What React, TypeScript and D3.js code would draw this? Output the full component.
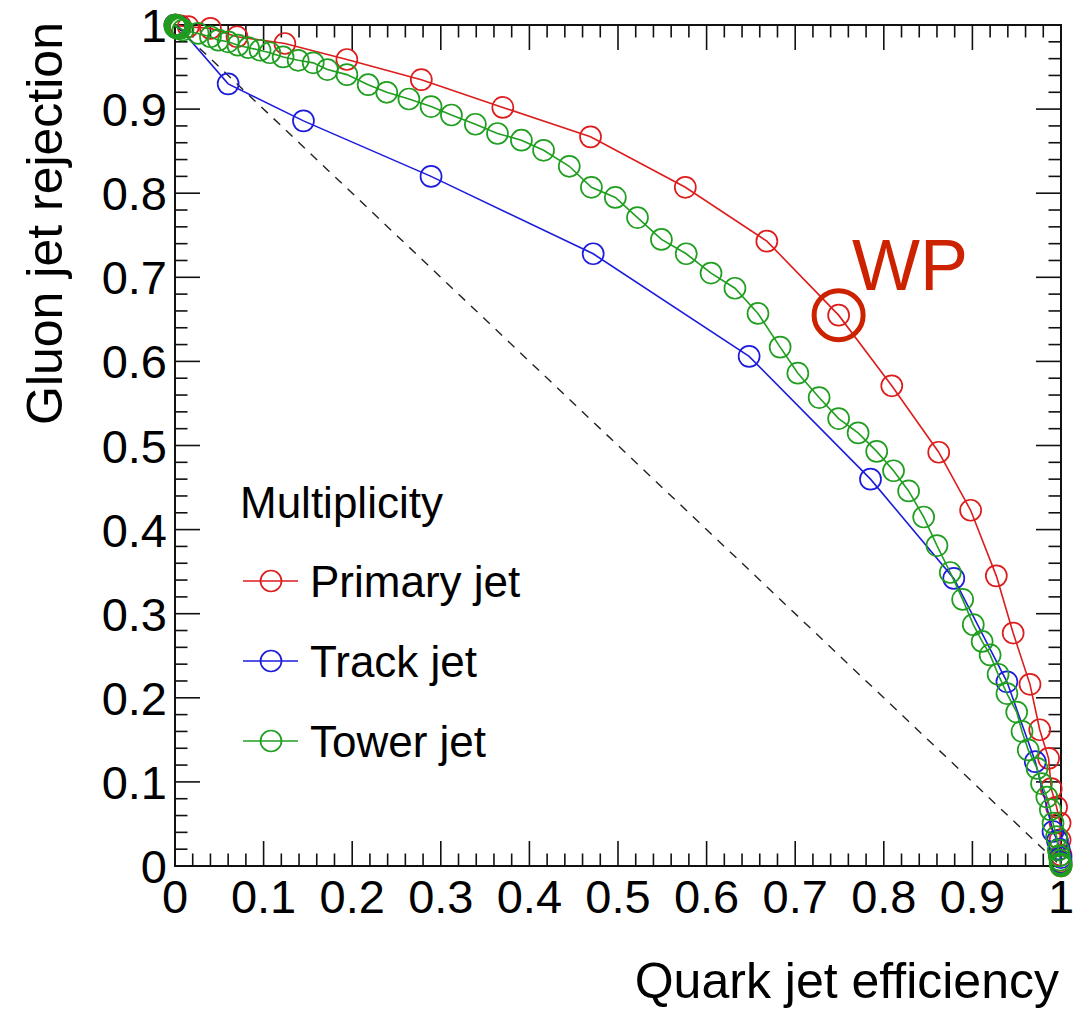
import React from "react";
import * as d3 from "d3";

// ---- Data ----
const primaryX = [0, 0.001, 0.003, 0.006, 0.015, 0.040, 0.070, 0.124, 0.194, 0.278, 0.370, 0.469, 0.576, 0.668, 0.749, 0.809, 0.862, 0.898, 0.927, 0.946, 0.965, 0.976, 0.986, 0.989, 0.995, 0.999, 0.999, 1.0, 1.0, 1.0];
const primaryY = [1, 1.0, 0.999, 0.999, 0.998, 0.996, 0.986, 0.978, 0.959, 0.935, 0.902, 0.867, 0.807, 0.743, 0.655, 0.571, 0.492, 0.423, 0.345, 0.277, 0.216, 0.162, 0.128, 0.092, 0.070, 0.051, 0.031, 0.013, 0.005, 0.0];

const trackX = [0, 0.001, 0.004, 0.060, 0.145, 0.289, 0.472, 0.648, 0.785, 0.879, 0.939, 0.971, 0.991, 0.996, 0.998, 1.0, 1.0];
const trackY = [1, 0.999, 0.998, 0.930, 0.886, 0.820, 0.728, 0.606, 0.460, 0.342, 0.219, 0.124, 0.041, 0.030, 0.020, 0.010, 0.004];

const towerX = [0, 0.0, 0.001, 0.001, 0.002, 0.003, 0.004, 0.006, 0.009, 0.026, 0.040, 0.049, 0.060, 0.071, 0.083, 0.096, 0.107, 0.122, 0.139, 0.156, 0.172, 0.194, 0.218, 0.239, 0.264, 0.289, 0.312, 0.339, 0.364, 0.391, 0.416, 0.445, 0.470, 0.497, 0.522, 0.549, 0.577, 0.605, 0.632, 0.658, 0.683, 0.703, 0.727, 0.749, 0.771, 0.792, 0.811, 0.828, 0.845, 0.860, 0.875, 0.889, 0.901, 0.911, 0.920, 0.929, 0.939, 0.950, 0.956, 0.963, 0.973, 0.978, 0.984, 0.988, 0.991, 0.995, 0.997, 0.998, 0.999, 0.999, 1.0, 1.0, 1.0];
const towerY = [1, 0.998, 1.0, 0.997, 0.999, 0.996, 0.997, 0.996, 0.994, 0.990, 0.986, 0.982, 0.980, 0.976, 0.973, 0.970, 0.967, 0.962, 0.958, 0.955, 0.947, 0.941, 0.929, 0.920, 0.912, 0.903, 0.893, 0.882, 0.871, 0.863, 0.851, 0.832, 0.807, 0.795, 0.771, 0.745, 0.728, 0.705, 0.687, 0.657, 0.617, 0.586, 0.557, 0.532, 0.515, 0.493, 0.470, 0.446, 0.415, 0.381, 0.349, 0.317, 0.287, 0.267, 0.251, 0.228, 0.205, 0.183, 0.160, 0.138, 0.116, 0.098, 0.082, 0.067, 0.051, 0.035, 0.019, 0.012, 0.007, 0.003, 0.002, 0.001, 0.0];

const seriesNames = ["Primary jet", "Track jet", "Tower jet"];
const seriesColors = ["#dd1c1c", "#1c1cdc", "#1f9e1f"];
const wpPoint = [0.749, 0.655];
const legendTitle = "Multiplicity";
const xTitle = "Quark jet efficiency";
const yTitle = "Gluon jet rejection";
const majorTicks = [0, 0.1, 0.2, 0.3, 0.4, 0.5, 0.6, 0.7, 0.8, 0.9, 1];

const FONT = "'Liberation Sans', Arial, Helvetica, sans-serif";

export default function App() {
  const W = 1080, H = 1010;
  const x = d3.scaleLinear().domain([0, 1]).range([175, 1061]);
  const y = d3.scaleLinear().domain([0, 1]).range([866, 25]);
  const minor = d3.range(0, 51).map((i) => i / 50);
  const isMajor = (v: number) => Math.abs(v * 10 - Math.round(v * 10)) < 1e-6;
  const fmt = (v: number) => (v === 0 ? "0" : v === 1 ? "1" : d3.format(".1f")(v));

  const series = [
    { xs: primaryX, ys: primaryY },
    { xs: trackX, ys: trackY },
    { xs: towerX, ys: towerY },
  ].map((s, i) => ({
    pts: s.xs.map((v, j) => [v, s.ys[j]] as [number, number]),
    color: seriesColors[i],
    name: seriesNames[i],
  }));

  const line = d3.line<[number, number]>().x((d) => x(d[0])).y((d) => y(d[1]));

  const [x0, x1] = x.range();
  const [y0, y1] = y.range();
  const R = 10.5;

  return (
    <svg width={W} height={H} style={{ position: "absolute", left: 0, top: 0, background: "#fff" }} fontFamily={FONT}>
      <rect x={0} y={0} width={W} height={H} fill="#fff" />
      {/* diagonal */}
      <line x1={x(0)} y1={y(1)} x2={x(1)} y2={y(0)} stroke="#222" strokeWidth={1.4} strokeDasharray="9,8" />

      {/* frame and ticks */}
      <g stroke="#111" strokeWidth={1.6}>
        {minor.map((v) => {
          const L = isMajor(v) ? 25 : 12.5;
          const px = x(v), py = y(v);
          return (
            <g key={"t" + v}>
              <line x1={px} y1={y0} x2={px} y2={y0 - L} />
              <line x1={px} y1={y1} x2={px} y2={y1 + L} />
              <line x1={x0} y1={py} x2={x0 + L} y2={py} />
              <line x1={x1} y1={py} x2={x1 - L} y2={py} />
            </g>
          );
        })}
      </g>
      <rect x={x0} y={y1} width={x1 - x0} height={y0 - y1} fill="none" stroke="#111" strokeWidth={2} />

      {/* tick labels */}
      <g fontSize={47} fill="#000">
        {majorTicks.map((v) => (
          <text key={"xl" + v} x={x(v)} y={913} textAnchor="middle">{fmt(v)}</text>
        ))}
        {majorTicks.map((v) => (
          <text key={"yl" + v} x={167} y={y(v) + 17} textAnchor="end">{fmt(v)}</text>
        ))}
      </g>

      {/* axis titles */}
      <text x={1059} y={998} fontSize={50} textAnchor="end" fill="#000">{xTitle}</text>
      <text transform="translate(62,22) rotate(-90)" fontSize={50} textAnchor="end" fill="#000">{yTitle}</text>

      {/* series */}
      {series.map((s, i) => (
        <g key={"s" + i}>
          <path d={line(s.pts) || ""} fill="none" stroke={s.color} strokeWidth={1.6} />
          {s.pts.map((p, j) => (
            <circle key={j} cx={x(p[0])} cy={y(p[1])} r={R} fill="none" stroke={s.color} strokeWidth={1.7} />
          ))}
          {i === 0 && (
            <circle cx={x(wpPoint[0])} cy={y(wpPoint[1])} r={24.5} fill="none" stroke="#cc2200" strokeWidth={5} />
          )}
        </g>
      ))}

      {/* WP label */}
      <text x={852} y={290} fontSize={72} fill="#cc2200">WP</text>

      {/* legend */}
      <text x={240} y={518} fontSize={44} fill="#000">{legendTitle}</text>
      {series.map((s, i) => {
        const ly = 581 + i * 80;
        return (
          <g key={"lg" + i}>
            <line x1={243} y1={ly} x2={298} y2={ly} stroke={s.color} strokeWidth={1.6} />
            <circle cx={271} cy={ly} r={R} fill="none" stroke={s.color} strokeWidth={1.7} />
            <text x={310} y={ly + 16} fontSize={44} fill="#000">{s.name}</text>
          </g>
        );
      })}
    </svg>
  );
}
